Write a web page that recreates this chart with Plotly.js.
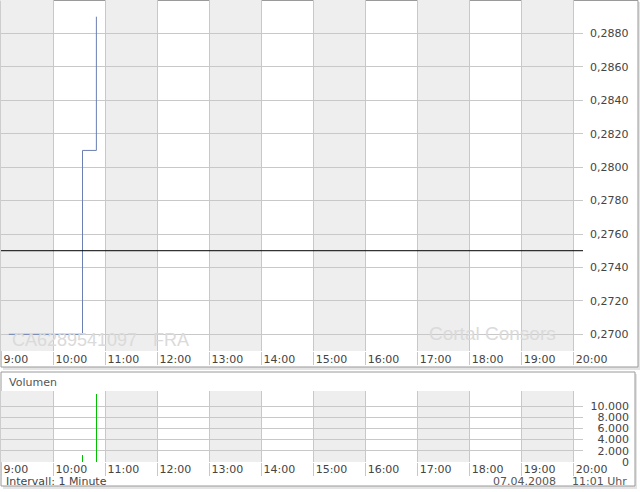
<!DOCTYPE html>
<html><head><meta charset="utf-8">
<script src="https://cdn.plot.ly/plotly-3.0.1.min.js"></script>
<style>html,body{margin:0;padding:0;background:#fff}#c{width:640px;height:492px}</style>
</head><body><div id="c"></div>
<script>
const day = '2008-04-07 ';
const priceTimes = ['09:09', '10:34', '10:50'];
const priceValues = [0.2700, 0.2810, 0.2890];
const volumeTimes = ['10:34', '10:50'];
const volumeValues = [1200, 12100];
const volumeTicks = [0, 2000, 4000, 6000, 8000, 10000];
const prevClose = 0.2750;
const shadedHours = [['09:00','10:00'],['11:00','12:00'],['13:00','14:00'],['15:00','16:00'],['17:00','18:00'],['19:00','20:00']];
const isin = 'CA6289541097';
const exchange = 'FRA';
const dateLabel = '07.04.2008';
const timeLabel = '11:01 Uhr';
const intervalLabel = 'Intervall: 1 Minute';

const W = 640, H = 492;
const px = v => v / W;
const py = v => 1 - v / H;
const xRange = [day + '09:00', day + '20:11:13'];
const font = {family: 'DejaVu Sans, Verdana, sans-serif', size: 11, color: '#444'};

const traces = [
  {x: priceTimes.map(t => day + t), y: priceValues, type: 'scatter', mode: 'lines',
   line: {shape: 'hv', color: '#6b7fb3', width: 1}, xaxis: 'x', yaxis: 'y', hoverinfo: 'skip'},
  {x: volumeTimes.map(t => day + t), y: volumeValues, type: 'bar', width: 75000,
   marker: {color: '#00c000', line: {width: 0}}, xaxis: 'x2', yaxis: 'y2', hoverinfo: 'skip'}
];

const shapes = [];
shapes.push({type:'rect', xref:'paper', yref:'paper', x0:px(3), x1:px(640), y0:py(2), y1:py(370), line:{width:0}, fillcolor:'#e4e4e4', layer:'below'});
shapes.push({type:'rect', xref:'paper', yref:'paper', x0:px(1), x1:px(638), y0:py(0.5), y1:py(367), line:{width:1, color:'#9a9a9a'}, fillcolor:'#fff', layer:'below'});
shapes.push({type:'rect', xref:'paper', yref:'paper', x0:px(3), x1:px(637), y0:py(374), y1:py(489), line:{width:0}, fillcolor:'#e4e4e4', layer:'below'});
shapes.push({type:'rect', xref:'paper', yref:'paper', x0:px(1), x1:px(635), y0:py(372), y1:py(486), line:{width:1, color:'#9a9a9a'}, fillcolor:'#fff', layer:'below'});
shadedHours.forEach(([a,b]) => {
  shapes.push({type:'rect', xref:'x', yref:'y domain', x0:day+a, x1:day+b, y0:0, y1:1, line:{width:0}, fillcolor:'#eeeeee', layer:'below'});
  shapes.push({type:'rect', xref:'x2', yref:'y2 domain', x0:day+a, x1:day+b, y0:0, y1:1, line:{width:0}, fillcolor:'#eeeeee', layer:'below'});
});
shapes.push({type:'line', xref:'x domain', yref:'y', x0:0, x1:1, y0:prevClose, y1:prevClose, line:{color:'#000', width:1}, layer:'above'});

const ann = (text, x, y, opts) => Object.assign({text, x: px(x), y: py(y), xref:'paper', yref:'paper', showarrow:false, font:font, xanchor:'left', yanchor:'middle'}, opts || {});
const annotations = [
  ann(isin, 10, 340, {font:{family:'Liberation Sans, Arial, sans-serif', size:18, color:'#dadada'}}),
  ann(exchange, 151, 340, {font:{family:'Liberation Sans, Arial, sans-serif', size:18, color:'#dadada'}}),
  ann('Cortal Consors', 427, 333, {font:{family:'Liberation Sans, Arial, sans-serif', size:19, color:'#dadada'}}),
  ann('Volumen', 7, 382, {font:{family:font.family, size:11, color:'#555'}}),
  ann(intervalLabel, 4, 481, {font:{family:font.family, size:11, color:'#444'}}),
  ann(dateLabel, 558, 481, {xanchor:'right', font:{family:font.family, size:11, color:'#555'}}),
  ann(timeLabel, 629, 481, {xanchor:'right', font:{family:font.family, size:11, color:'#555'}})
];

const xCommon = {type:'date', range:xRange, tick0: day + '09:00', dtick: 3600000, tickformat:'%-H:%M',
  showgrid:true, gridcolor:'#c8c8c8', gridwidth:1, zeroline:false, showline:false,
  ticks:'outside', ticklen:13, tickcolor:'#c8c8c8', tickwidth:1,
  ticklabelposition:'outside right', ticklabelstandoff:-2, ticklabelshift:2, tickfont:font, fixedrange:true};

const layout = {
  width: W, height: H, margin:{l:0, r:0, t:0, b:0}, paper_bgcolor:'#fff', plot_bgcolor:'rgba(0,0,0,0)',
  showlegend:false, separators:',.', font:font, bargap:0,
  xaxis: Object.assign({}, xCommon, {domain:[px(1), px(583)], anchor:'y'}),
  yaxis: {domain:[py(351), py(0)], range:[0.269, 0.290], side:'right', anchor:'x', dtick:0.002, tick0:0.27,
    tickformat:'.4f', showgrid:true, gridcolor:'#c8c8c8', zeroline:false, showline:false, ticks:'',
    ticklabelstandoff:6, tickfont:font, fixedrange:true},
  xaxis2: Object.assign({}, xCommon, {domain:[px(1), px(583)], anchor:'y2', ticklabelstandoff:-3}),
  yaxis2: {domain:[py(462), py(391)], range:[0, 12700], side:'left', anchor:'free', position:px(629),
    tickmode:'array', tickvals:volumeTicks, tickformat:',d', showgrid:true, gridcolor:'#c8c8c8', zeroline:false, showline:false, ticks:'',
    ticklabelstandoff:0, tickfont:font, fixedrange:true},
  shapes, annotations
};

Plotly.newPlot('c', traces, layout, {staticPlot:true, displayModeBar:false});
</script></body></html>
